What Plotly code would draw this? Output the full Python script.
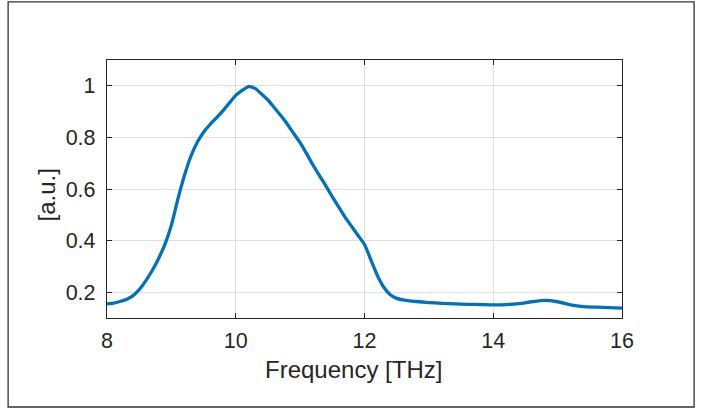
import plotly.graph_objects as go

freq = [8.0, 8.1, 8.2, 8.3, 8.4, 8.5, 8.6, 8.7, 8.8, 8.9,
        9.0, 9.1, 9.2, 9.3, 9.4, 9.5, 9.6, 9.7, 9.8, 9.9,
        10.0, 10.1, 10.2, 10.3, 10.4, 10.5, 10.6, 10.7, 10.8, 10.9,
        11.0, 11.1, 11.2, 11.3, 11.4, 11.5, 11.6, 11.7, 11.8, 11.9,
        12.0, 12.1, 12.2, 12.3, 12.4, 12.5, 12.6, 12.7, 12.8, 12.9,
        13.0, 13.2, 13.4, 13.6, 13.8, 14.0, 14.2, 14.4, 14.6, 14.8,
        15.0, 15.2, 15.4, 15.6, 15.8, 16.0]
signal = [0.155, 0.158, 0.164, 0.172, 0.186, 0.210, 0.243, 0.283, 0.330, 0.385,
          0.460, 0.560, 0.650, 0.725, 0.780, 0.820, 0.850, 0.876, 0.903, 0.933,
          0.963, 0.982, 0.997, 0.990, 0.968, 0.945, 0.915, 0.885, 0.852, 0.815,
          0.780, 0.737, 0.693, 0.652, 0.612, 0.570, 0.530, 0.490, 0.455, 0.420,
          0.385, 0.325, 0.265, 0.219, 0.190, 0.176, 0.170, 0.166, 0.164, 0.162,
          0.160, 0.157, 0.155, 0.153, 0.152, 0.151, 0.152, 0.156, 0.163, 0.168,
          0.163, 0.151, 0.144, 0.142, 0.140, 0.138]

x_ticks = [8, 10, 12, 14, 16]
y_ticks = [0.2, 0.4, 0.6, 0.8, 1.0]
y_tick_text = ["0.2", "0.4", "0.6", "0.8", "1"]
x_title = "Frequency [THz]"
y_title = "[a.u.]"

FONT = "Liberation Sans, Arial, sans-serif"
INK = "#262626"

fig = go.Figure()
fig.add_trace(go.Scatter(x=freq, y=signal, mode="lines",
                         line=dict(color="#0072BD", width=3.3, shape="spline", smoothing=0.6),
                         showlegend=False, hoverinfo="skip"))

axis_common = dict(showline=True, linecolor=INK, linewidth=1.3, mirror="ticks",
                   ticks="inside", ticklen=5, tickwidth=1.3, tickcolor=INK,
                   showgrid=True, gridcolor="#dfdfdf", gridwidth=1.2, zeroline=False,
                   tickfont=dict(family=FONT, size=21.5, color=INK))

fig.update_xaxes(range=[8, 16], tickvals=x_ticks, ticktext=[str(v) for v in x_ticks],
                 ticklabelstandoff=3, **axis_common)
fig.update_yaxes(range=[0.1, 1.1], tickvals=y_ticks, ticktext=y_tick_text,
                 ticklabelstandoff=6, **axis_common)

fig.update_layout(width=704, height=412, margin=dict(l=107, r=82, t=60, b=94),
                  paper_bgcolor="white", plot_bgcolor="white",
                  annotations=[
                      dict(text=x_title, xref="paper", yref="paper", x=0.4786, y=-0.1977,
                           xanchor="center", yanchor="middle", showarrow=False,
                           font=dict(family=FONT, size=24, color=INK)),
                      dict(text=y_title, xref="paper", yref="paper", x=-0.1175, y=0.4767,
                           xanchor="center", yanchor="middle", showarrow=False, textangle=-90,
                           font=dict(family=FONT, size=24, color=INK)),
                  ],
                  shapes=[dict(type="rect", xref="paper", yref="paper",
                               x0=-0.192, x1=1.140, y0=-0.345, y1=1.225,
                               line=dict(color="#333333", width=1.3), layer="below")])

fig.write_html("out.html")
